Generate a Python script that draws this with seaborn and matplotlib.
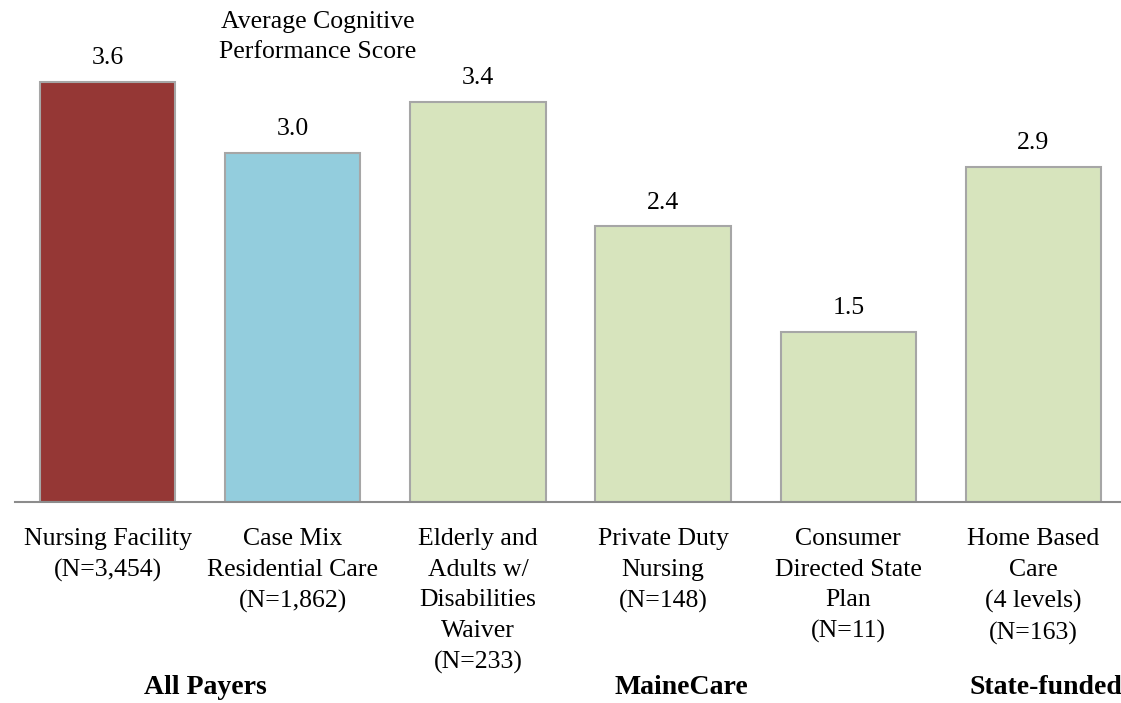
import numpy as np
import pandas as pd
import matplotlib
matplotlib.use("Agg")
import matplotlib.pyplot as plt
import seaborn as sns

# programme labels, scores and bar colours
programs = [
    "Nursing Facility\n(N=3,454)",
    "Case Mix\nResidential Care\n(N=1,862)",
    "Elderly and\nAdults w/\nDisabilities\nWaiver\n(N=233)",
    "Private Duty\nNursing\n(N=148)",
    "Consumer\nDirected State\nPlan\n(N=11)",
    "Home Based\nCare\n(4 levels)\n(N=163)",
]
scores = [3.60, 2.99, 3.43, 2.36, 1.46, 2.87]
colors = ["#953735", "#93CDDD", "#D7E4BD", "#D7E4BD", "#D7E4BD", "#D7E4BD"]
groups = ["All Payers", "MaineCare", "State-funded"]
group_pos = [0.53, 3.1, 5.07]

df = pd.DataFrame({"program": programs, "score": scores})

sns.set_style("white")
plt.rcParams["font.family"] = ["Liberation Serif", "DejaVu Serif"]
plt.rcParams["text.color"] = "black"
plt.rcParams["xtick.color"] = "black"

fig = plt.figure(figsize=(11.21, 7.03), dpi=100)
ax = fig.add_axes([15 / 1121, (703 - 502) / 703, 1111 / 1121, 502 / 703])

sns.barplot(data=df, x="program", y="score", hue="program", palette=colors,
            legend=False, width=0.73, edgecolor="#A6A6A6", linewidth=1.5,
            saturation=1, ax=ax)

ax.set_xlim(-0.5, 5.5)
ax.set_ylim(0, 4.3)
ax.set_xlabel("")
ax.set_ylabel("")
ax.set_yticks([])
for s in ["top", "right", "left"]:
    ax.spines[s].set_visible(False)
ax.spines["bottom"].set_color("#8C8C8C")
ax.spines["bottom"].set_linewidth(1.5)

ax.set_xticks(range(len(programs)))
ax.set_xticklabels(programs, fontsize=18.5)
for t in ax.get_xticklabels():
    t.set_linespacing(1.5)
ax.tick_params(axis="x", which="major", length=0, pad=19, labelcolor="black")
ax.set_xticks(np.arange(-0.5, 6, 1), minor=True)
ax.tick_params(axis="x", which="minor", length=8, width=1.5, color="#8C8C8C",
               direction="out")

for i, v in enumerate(scores):
    ax.annotate(f"{v:.1f}", (i, v), xytext=(0, 9), textcoords="offset points",
                ha="center", va="bottom", fontsize=18.5, color="black")

fig.text(318 / 1121, 1 - 37 / 703, "Average Cognitive\nPerformance Score",
         ha="center", va="center", fontsize=18.5, linespacing=1.5,
         color="black")

for g, x in zip(groups, group_pos):
    ax.text(x, -(688 - 502) / 502, g, transform=ax.get_xaxis_transform(),
            ha="center", va="center", fontsize=20, fontweight="bold",
            color="black")

fig.savefig("out.png", dpi=100)
